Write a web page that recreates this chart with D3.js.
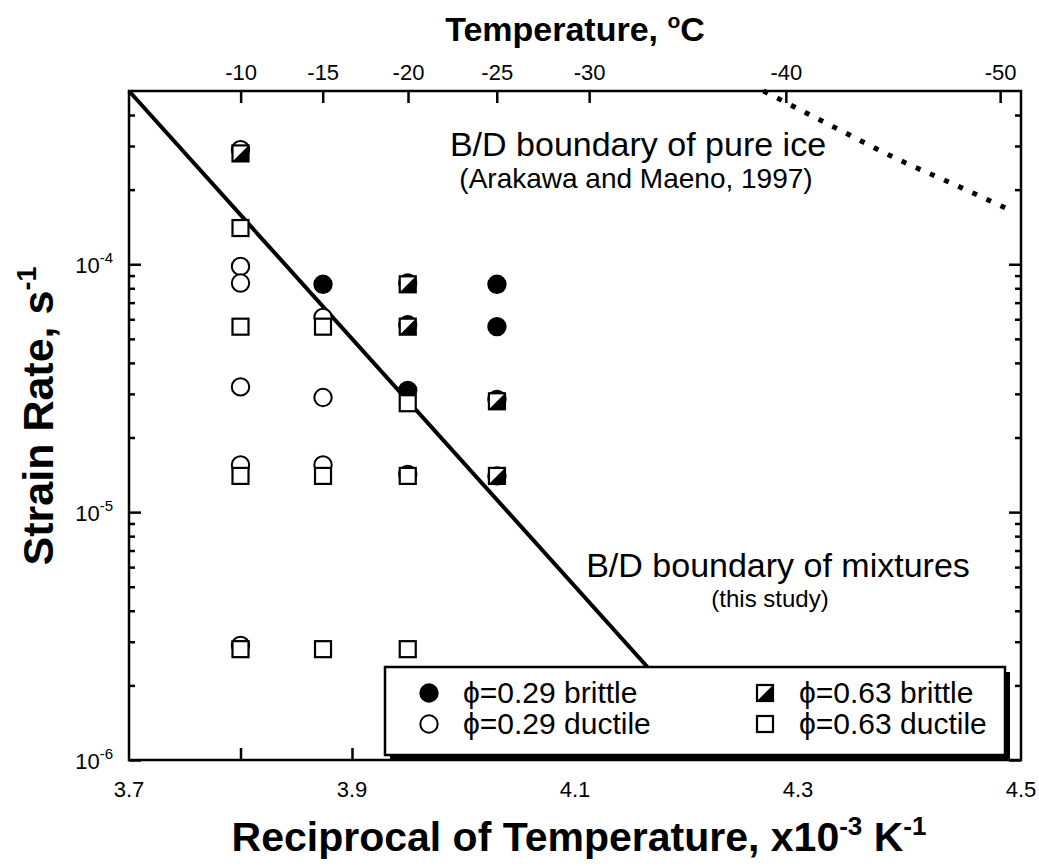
<!doctype html>
<html lang="en">
<head>
  <meta charset="utf-8">
  <title>B/D boundary - strain rate vs reciprocal temperature</title>
  <script src="https://cdnjs.cloudflare.com/ajax/libs/d3/7.8.5/d3.min.js"></script>
  <style>
    body{
      margin:0;
      background:#fff;
    }
    svg{
      display:block;
      font-family:"Liberation Sans", Arial, Helvetica, sans-serif;
    }
    .tick line{
      stroke:#000;
      stroke-width:2.5;
    }
    .tick text{
      font-size:22px;
      fill:#000;
    }
    .domain{
      display:none;
    }
  </style>
</head>
<body>
  <svg width="1039" height="866"></svg>
  <script>

  // top axis, temperature in degC
  const tempC=[-10,-15,-20,-25,-30,-40,-50];
  // bottom axis, 1000/T
  const xTickVals=[3.8,3.9,4.0,4.1,4.2,4.3,4.4];
  const xLabelVals=[3.7,3.9,4.1,4.3,4.5];
  // left / right axis
  const yDecades=[1e-6,1e-5,1e-4];
  const yMinor=[2e-6,3e-6,4e-6,5e-6,6e-6,7e-6,8e-6,9e-6,
                2e-5,3e-5,4e-5,5e-5,6e-5,7e-5,8e-5,9e-5,
                2e-4,3e-4,4e-4];

  // [1000/T, strain rate]
  const brittle029=[[3.874,8.3e-5],[3.950,8.4e-5],[3.950,5.7e-5],[3.950,3.1e-5],
                    [4.030,8.3e-5],[4.030,5.6e-5],[4.030,2.85e-5],[4.030,1.4e-5]];
  const ductile029=[[3.800,2.9e-4],[3.800,9.8e-5],[3.800,8.4e-5],[3.800,3.2e-5],
                    [3.800,1.55e-5],[3.800,2.9e-6],[3.874,6.1e-5],[3.874,2.9e-5],
                    [3.874,1.55e-5],[3.950,1.42e-5]];
  const brittle063=[[3.800,2.8e-4],[3.950,8.3e-5],[3.950,5.6e-5],[4.030,2.8e-5],[4.030,1.4e-5]];
  const ductile063=[[3.800,1.4e-4],[3.800,5.6e-5],[3.800,1.4e-5],[3.800,2.8e-6],
                    [3.874,5.6e-5],[3.874,1.4e-5],[3.874,2.8e-6],
                    [3.950,2.75e-5],[3.950,1.4e-5],[3.950,2.8e-6]];

  // boundaries
  const mixtureLine=[[3.70,5.0e-4],[4.24,1.0e-6]];
  const pureIceLine=[[4.269,5.0e-4],[4.331,3.6e-4],[4.392,2.62e-4],[4.443,2.07e-4],[4.492,1.64e-4]];

  const legendItems=[
    {type:"b029",label:"0.29 brittle"},
    {type:"d029",label:"0.29 ductile"},
    {type:"b063",label:"0.63 brittle"},
    {type:"d063",label:"0.63 ductile"}
  ];

  const svgWidth=1039;
  const svgHeight=866;

  const margin={
    top:91,
    left:129,
    bottom:106,
    right:18
  }

  const width=svgWidth-(margin.left+margin.right);
  const height=svgHeight-(margin.top+margin.bottom);

  const xScale=d3.scaleLinear()
  .domain([3.7,4.5])
  .range([0,width]);

  const yScale=d3.scaleLog()
  .domain([1e-6,5e-4])
  .range([height,0]);

  const svg=d3.select("svg");
  const g=svg.append("g")
  .attr("transform",`translate(${margin.left},${margin.top})`);

  // boundary lines (behind the symbols)
  const line=d3.line()
  .x(d=>xScale(d[0]))
  .y(d=>yScale(d[1]));

  g.append("path")
  .datum(mixtureLine)
  .attr("d",line)
  .attr("fill","none")
  .attr("stroke","#000")
  .attr("stroke-width",4);

  g.append("path")
  .datum(pureIceLine)
  .attr("d",line.curve(d3.curveMonotoneX))
  .attr("fill","none")
  .attr("stroke","#000")
  .attr("stroke-width",5)
  .attr("stroke-dasharray","5,10.5");

  // symbol drawing
  function drawSymbol(sel,type){
    if(type=="b029"||type=="d029"){
      sel.append("circle")
      .attr("r",8.7)
      .attr("fill",type=="b029"?"#000":"#fff")
      .attr("stroke","#000")
      .attr("stroke-width",2);
    }else{
      sel.append("rect")
      .attr("x",-8).attr("y",-8)
      .attr("width",16).attr("height",16)
      .attr("fill","#fff")
      .attr("stroke","#000")
      .attr("stroke-width",2.2);
      if(type=="b063"){
        sel.append("path")
        .attr("d","M-8,8L8,8L8,-8Z")
        .attr("fill","#000");
      }
    }
  }

  const series=[
    {type:"d029",data:ductile029},
    {type:"b029",data:brittle029},
    {type:"d063",data:ductile063},
    {type:"b063",data:brittle063}
  ];

  series.forEach(s=>{
    g.append("g")
    .attr("class","pts-"+s.type)
    .selectAll("g")
    .data(s.data)
    .enter()
    .append("g")
    .attr("transform",d=>`translate(${xScale(d[0])},${yScale(d[1])})`)
    .each(function(){ drawSymbol(d3.select(this),s.type); });
  });

  // axes, ticks pointing inward
  g.append("g")
  .attr("transform",`translate(0,${height})`)
  .call(d3.axisBottom(xScale).tickValues(xTickVals).tickSizeInner(-12).tickSizeOuter(0).tickFormat(""));

  g.append("g")
  .attr("class","top-axis")
  .call(d3.axisTop(xScale)
    .tickValues(tempC.map(c=>1000/(c+273.15)))
    .tickSizeInner(-12).tickSizeOuter(0).tickPadding(11)
    .tickFormat((d,i)=>tempC[i]));

  g.append("g")
  .call(d3.axisLeft(yScale).tickValues(yDecades).tickSizeInner(-12).tickSizeOuter(0).tickFormat(""));
  g.append("g")
  .call(d3.axisLeft(yScale).tickValues(yMinor).tickSizeInner(-6).tickSizeOuter(0).tickFormat(""));
  g.append("g")
  .attr("transform",`translate(${width},0)`)
  .call(d3.axisRight(yScale).tickValues(yDecades).tickSizeInner(-12).tickSizeOuter(0).tickFormat(""));
  g.append("g")
  .attr("transform",`translate(${width},0)`)
  .call(d3.axisRight(yScale).tickValues(yMinor).tickSizeInner(-6).tickSizeOuter(0).tickFormat(""));

  g.append("rect")
  .attr("width",width)
  .attr("height",height)
  .attr("fill","none")
  .attr("stroke","#000")
  .attr("stroke-width",2.5);

  // bottom labels
  g.append("g")
  .selectAll("text")
  .data(xLabelVals)
  .enter()
  .append("text")
  .attr("x",d=>xScale(d))
  .attr("y",height+37)
  .attr("text-anchor","middle")
  .style("font-size","22px")
  .text(d=>d.toFixed(1));

  // left labels 10^n
  const yLab=g.append("g")
  .selectAll("text")
  .data(yDecades)
  .enter()
  .append("text")
  .attr("x",-16)
  .attr("y",d=>yScale(d)+9)
  .attr("text-anchor","end")
  .style("font-size","22px");
  yLab.append("tspan").text("10");
  yLab.append("tspan")
  .attr("dy",-10)
  .style("font-size","15px")
  .text(d=>Math.round(Math.log10(d)));

  // annotations
  g.append("text")
  .attr("x",638-margin.left)
  .attr("y",156-margin.top)
  .attr("text-anchor","middle")
  .style("font-size","34px")
  .text("B/D boundary of pure ice");
  g.append("text")
  .attr("x",636-margin.left)
  .attr("y",188-margin.top)
  .attr("text-anchor","middle")
  .style("font-size","28px")
  .text("(Arakawa and Maeno, 1997)");
  g.append("text")
  .attr("x",778-margin.left)
  .attr("y",577-margin.top)
  .attr("text-anchor","middle")
  .style("font-size","34px")
  .text("B/D boundary of mixtures");
  g.append("text")
  .attr("x",770-margin.left)
  .attr("y",607-margin.top)
  .attr("text-anchor","middle")
  .style("font-size","24px")
  .text("(this study)");

  // legend
  const legend=svg.append("g")
  .attr("transform","translate(385,667)");
  legend.append("rect")
  .attr("x",5).attr("y",5)
  .attr("width",620).attr("height",88)
  .attr("fill","#000");
  legend.append("rect")
  .attr("width",620).attr("height",88)
  .attr("fill","#fff")
  .attr("stroke","#000")
  .attr("stroke-width",2.5);

  const li=legend.selectAll(".li")
  .data(legendItems)
  .enter()
  .append("g")
  .attr("class","li")
  .attr("transform",(d,i)=>`translate(${i<2?44:380},${i%2==0?26:57})`);
  li.each(function(d){ drawSymbol(d3.select(this),d.type); });
  const lt=li.append("text")
  .attr("x",34)
  .attr("y",10)
  .style("font-size","30px");
  lt.append("tspan").text("\u03D5");
  lt.append("tspan").text(d=>"="+d.label);

  // titles
  const topTitle=svg.append("text")
  .attr("x",575)
  .attr("y",41)
  .attr("text-anchor","middle")
  .style("font-size","34px")
  .style("font-weight","bold");
  topTitle.append("tspan").text("Temperature, ");
  topTitle.append("tspan").attr("dy",-13).style("font-size","21px").text("o");
  topTitle.append("tspan").attr("dy",13).text("C");

  const xt=svg.append("text")
  .attr("x",579)
  .attr("y",851)
  .attr("text-anchor","middle")
  .style("font-size","41px")
  .style("font-weight","bold");
  xt.append("tspan").text("Reciprocal of Temperature, x10");
  xt.append("tspan").attr("dy",-16).style("font-size","26px").text("-3");
  xt.append("tspan").attr("dy",16).text(" K");
  xt.append("tspan").attr("dy",-16).style("font-size","26px").text("-1");

  const yt=svg.append("text")
  .attr("transform","translate(53,416) rotate(-90)")
  .attr("text-anchor","middle")
  .style("font-size","43px")
  .style("font-weight","bold");
  yt.append("tspan").text("Strain Rate, s");
  yt.append("tspan").attr("dy",-17).style("font-size","27px").text("-1");

  </script>
</body>
</html>
